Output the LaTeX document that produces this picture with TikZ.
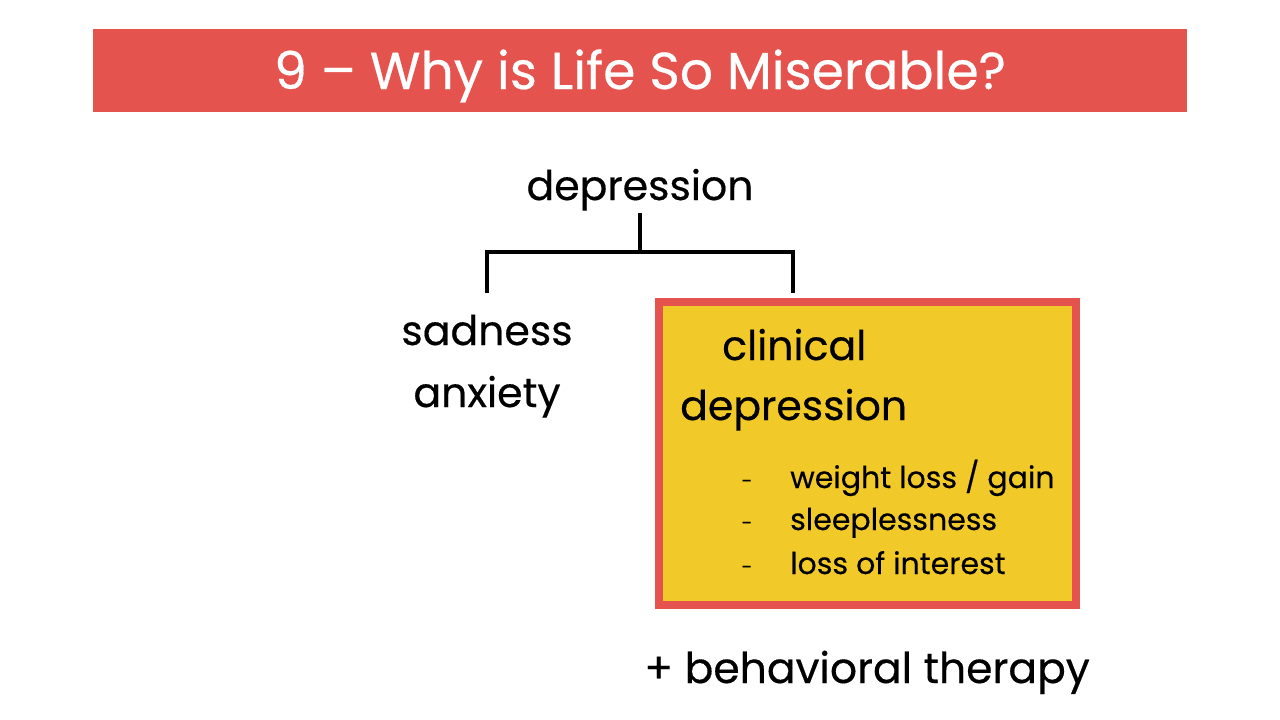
\documentclass[tikz,border=0pt]{standalone}
\usepackage{fontspec}
\setmainfont{Poppins}[FakeBold=0.4]
\usetikzlibrary{positioning}
\definecolor{SlideRed}{RGB}{229,83,78}
\definecolor{SlideYellow}{RGB}{241,201,40}

\begin{document}
\begin{tikzpicture}[
x=1pt,y=-1pt,
titlebar/.style={rectangle,fill=SlideRed,minimum width=1094pt,minimum height=83pt,inner sep=0pt},
titletext/.style={text=white,font=\fontsize{52}{60}\selectfont,inner sep=0pt,anchor=base},
word/.style={font=\fontsize{41}{48}\selectfont,inner sep=0pt,anchor=base},
item/.style={font=\fontsize{30}{36}\selectfont,inner sep=0pt,anchor=base west},
redbox/.style={rectangle,draw=SlideRed,fill=SlideYellow,line width=8pt,minimum width=417pt,minimum height=303pt,inner sep=0pt},
branch/.style={line width=4pt,draw=black}
]
\useasboundingbox (0,0) rectangle (1280,720);
\node[titlebar] (bar) at (640,70.5) {};
\node[titletext] (title) at (640,89) {9 -- Why is Life So Miserable?};

\node[word] (dep) at (640,200) {depression};
\coordinate (stem) at (640,213);
\coordinate (fork) at (640,252);
\coordinate (lend) at (487,293);
\coordinate (rend) at (793,293);
\node[word] (sad) at (487,345) {sadness};
\node[word,below=62pt of sad.base,anchor=base] (anx) {anxiety};

\node[redbox] (clin) at (867.5,453.5) {};
\node[word,anchor=base west] (clina) at (722,360) {clinical};
\node[word,anchor=base west] (clinb) at (680,420) {depression};
\node[item] (i1) at (790,488) {weight loss / gain};
\node[item] (i2) at (790,530) {sleeplessness};
\node[item] (i3) at (790,574) {loss of interest};
\foreach \n in {i1,i2,i3}
  \node[item,font=\fontsize{20}{24}\selectfont,anchor=base] at ([xshift=-43pt]\n.base west) {-};

\node[word,font=\fontsize{42.5}{50}\selectfont] (therapy) at (867,683) {+ behavioral therapy};

\draw[branch] (stem) -- (fork);
\draw[branch] (lend) |- (fork) -| (rend);
\end{tikzpicture}
\end{document}
